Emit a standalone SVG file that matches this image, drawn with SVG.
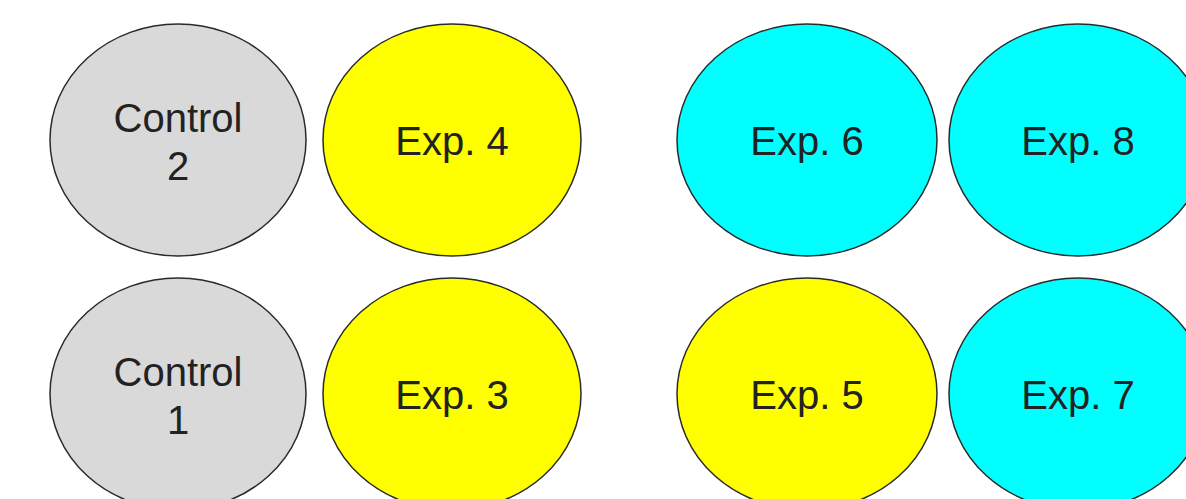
<svg xmlns="http://www.w3.org/2000/svg" width="1186" height="499" viewBox="0 0 1186 499">
<style>
.n{stroke:#2a2a2a;stroke-width:1.5}
.g{fill:#d9d9d9}.y{fill:#ffff00}.c{fill:#00ffff}
text{font-family:"Liberation Sans",Arial,sans-serif;font-size:40px;fill:#222;text-anchor:middle}
</style>
<rect width="1186" height="499" fill="#fff"/>
<g id="control2"><ellipse class="n g" cx="178" cy="140" rx="128" ry="116"/><text x="178" y="132">Control</text><text x="178" y="180">2</text></g>
<g id="exp4"><ellipse class="n y" cx="452" cy="140" rx="129" ry="116"/><text x="452" y="155">Exp. 4</text></g>
<g id="exp6"><ellipse class="n c" cx="807" cy="140" rx="130" ry="116"/><text x="807" y="155">Exp. 6</text></g>
<g id="exp8"><ellipse class="n c" cx="1078" cy="140" rx="129" ry="116"/><text x="1078" y="155">Exp. 8</text></g>
<g id="control1"><ellipse class="n g" cx="178" cy="394" rx="128" ry="116"/><text x="178" y="386">Control</text><text x="178" y="434">1</text></g>
<g id="exp3"><ellipse class="n y" cx="452" cy="394" rx="129" ry="116"/><text x="452" y="409">Exp. 3</text></g>
<g id="exp5"><ellipse class="n y" cx="807" cy="394" rx="130" ry="116"/><text x="807" y="409">Exp. 5</text></g>
<g id="exp7"><ellipse class="n c" cx="1078" cy="394" rx="129" ry="116"/><text x="1078" y="409">Exp. 7</text></g>
<g id="connectors"/>
</svg>
